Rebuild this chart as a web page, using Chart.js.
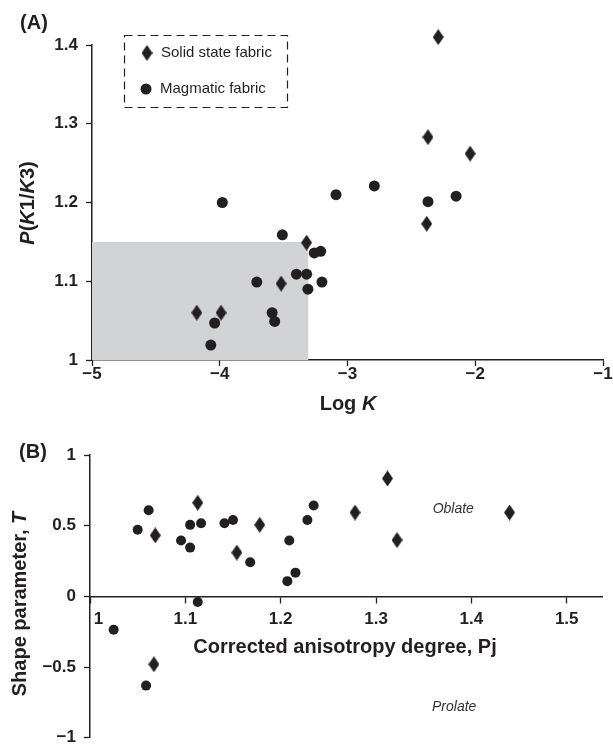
<!DOCTYPE html>
<html>
<head>
<meta charset="utf-8">
<script src="https://cdn.jsdelivr.net/npm/chart.js@4.4.1/dist/chart.umd.min.js"></script>
<style>
  html, body { margin: 0; padding: 0; background: #fff; overflow: hidden; }
  #wrap { position: relative; width: 613px; height: 753px; overflow: hidden; }
  .box { position: absolute; left: 0; width: 613px; }
</style>
</head>
<body>
<div id="wrap">
  <div class="box" style="top:0;height:420px"><canvas id="chartA"></canvas></div>
  <div class="box" style="top:420px;height:336px"><canvas id="chartB"></canvas></div>
</div>
<script>
// (A) Log K vs P(K1/K3)
const aSolidX = [-4.18, -3.99, -3.52, -3.32, -2.29, -2.37, -2.04, -2.38];
const aSolidY = [1.06, 1.06, 1.097, 1.149, 1.41, 1.283, 1.262, 1.173];
const aMagX = [-3.98, -4.04, -4.07, -3.71, -3.51, -3.59, -3.57, -3.40, -3.32, -3.31, -3.26, -3.21, -3.20, -3.09, -2.79, -2.37, -2.15];
const aMagY = [1.20, 1.047, 1.019, 1.099, 1.159, 1.06, 1.049, 1.109, 1.109, 1.09, 1.136, 1.138, 1.099, 1.21, 1.221, 1.201, 1.208];
const aShadeX = [-5, -3.305];
const aShadeTop = 1.15;
const aXTicks = [-5, -4, -3, -2, -1];
const aXTickLabels = ['\u22125', '\u22124', '\u22123', '\u22122', '\u22121'];
const aYTicks = [1, 1.1, 1.2, 1.3, 1.4];
const aYTickLabels = ['1', '1.1', '1.2', '1.3', '1.4'];

// (B) Pj vs T
const bSolidX = [1.0685, 1.113, 1.154, 1.178, 1.278, 1.312, 1.322, 1.440, 1.067];
const bSolidY = [0.432, 0.662, 0.310, 0.506, 0.593, 0.834, 0.398, 0.593, -0.48];
const bMagX = [1.050, 1.0615, 1.0955, 1.105, 1.105, 1.1165, 1.141, 1.150, 1.168, 1.209, 1.207, 1.2155, 1.228, 1.2346, 1.113, 1.0248, 1.0588];
const bMagY = [0.471, 0.609, 0.395, 0.506, 0.345, 0.517, 0.517, 0.540, 0.241, 0.395, 0.108, 0.168, 0.54, 0.643, -0.039, -0.236, -0.631];
const bXTicks = [1, 1.1, 1.2, 1.3, 1.4, 1.5];
const bXTickLabels = ['1', '1.1', '1.2', '1.3', '1.4', '1.5'];
const bYTicks = [-1, -0.5, 0, 0.5, 1];
const bYTickLabels = ['\u22121', '\u22120.5', '0', '0.5', '1'];

const INK = '#231f20';
const FONT = '"Liberation Sans", Arial, sans-serif';
Chart.defaults.font.family = FONT;
Chart.defaults.color = INK;

function pairs(xs, ys) {
  return xs.map((x, i) => ({ x: x, y: ys[i] }));
}

// tall diamond marker
function diamond(w, h) {
  const c = document.createElement('canvas');
  c.width = w; c.height = h;
  const g = c.getContext('2d');
  g.fillStyle = INK;
  g.beginPath();
  g.moveTo(w / 2, 0);
  g.lineTo(w, h / 2);
  g.lineTo(w / 2, h);
  g.lineTo(0, h / 2);
  g.closePath();
  g.fill();
  return c;
}
const diamondImg = diamond(11, 16);

// text with some italic parts
function rich(ctx, parts, cx, cy, size, rotate) {
  ctx.save();
  ctx.translate(cx, cy);
  if (rotate) ctx.rotate(-Math.PI / 2);
  ctx.fillStyle = INK;
  ctx.textBaseline = 'middle';
  ctx.textAlign = 'left';
  let total = 0;
  parts.forEach(p => {
    ctx.font = (p[1] ? 'italic ' : '') + 'bold ' + size + 'px ' + FONT;
    total += ctx.measureText(p[0]).width;
  });
  let x = -total / 2;
  parts.forEach(p => {
    ctx.font = (p[1] ? 'italic ' : '') + 'bold ' + size + 'px ' + FONT;
    ctx.fillText(p[0], x, 0);
    x += ctx.measureText(p[0]).width;
  });
  ctx.restore();
}

function axisStyle(ticks, labels, pad, extra) {
  return Object.assign({
    type: 'linear',
    min: ticks[0],
    max: ticks[ticks.length - 1],
    afterBuildTicks: s => { s.ticks = ticks.map(v => ({ value: v })); },
    ticks: {
      autoSkip: false,
      padding: pad,
      font: { size: 17, weight: 'bold' },
      color: INK,
      callback: (v, i) => labels[i]
    },
    grid: { drawOnChartArea: false, color: INK, tickLength: 6, tickWidth: 1.3 },
    border: { display: true, color: INK, width: 1.5 }
  }, extra || {});
}

const decorA = {
  id: 'decorA',
  afterDraw(chart) {
    const ctx = chart.ctx;
    rich(ctx, [['(A)', false]], 34, 23, 20, false);
    rich(ctx, [['Log ', false], ['K', true]], 348, 404, 20, false);
    rich(ctx, [['P', true], ['(', false], ['K', true], ['1/', false], ['K', true], ['3)', false]], 28, 203, 20, true);

    // legend box
    ctx.save();
    ctx.strokeStyle = INK;
    ctx.lineWidth = 1.2;
    ctx.setLineDash([8, 5]);
    ctx.strokeRect(124.5, 35.5, 163, 72);
    ctx.setLineDash([]);
    ctx.drawImage(diamondImg, 147 - 5.5, 53 - 8);
    ctx.fillStyle = INK;
    ctx.beginPath();
    ctx.arc(146, 89, 5.5, 0, Math.PI * 2);
    ctx.fill();
    ctx.font = '15px ' + FONT;
    ctx.textBaseline = 'middle';
    ctx.fillText('Solid state fabric', 161, 53);
    ctx.fillText('Magmatic fabric', 160, 89);
    ctx.restore();
  }
};

new Chart(document.getElementById('chartA'), {
  type: 'scatter',
  data: {
    datasets: [
      {
        type: 'line',
        label: 'shade',
        data: [{ x: aShadeX[0], y: aShadeTop }, { x: aShadeX[1], y: aShadeTop }],
        fill: 'start',
        backgroundColor: '#d1d3d4',
        borderWidth: 0,
        pointRadius: 0,
        order: 3
      },
      {
        label: 'Solid state fabric',
        data: pairs(aSolidX, aSolidY),
        pointStyle: diamondImg,
        pointRadius: 12,
        clip: false,
        order: 1
      },
      {
        label: 'Magmatic fabric',
        data: pairs(aMagX, aMagY),
        pointStyle: 'circle',
        pointRadius: 5.5,
        backgroundColor: INK,
        borderWidth: 0,
        clip: false,
        order: 2
      }
    ]
  },
  options: {
    responsive: true,
    maintainAspectRatio: false,
    animation: false,
    layout: { autoPadding: false, padding: { top: 45, left: 0, right: 10, bottom: 20 } },
    plugins: { legend: { display: false }, tooltip: { enabled: false } },
    scales: {
      x: axisStyle(aXTicks, aXTickLabels, -2, {
        position: 'bottom',
        afterFit: s => { s.height = 40; }
      }),
      y: axisStyle(aYTicks, aYTickLabels, 8, {
        position: 'left',
        afterFit: s => { s.width = 92; }
      })
    }
  },
  plugins: [decorA]
});

const bOblate = { x: 1.381, y: 0.62 };
const bProlate = { x: 1.382, y: -0.78 };

const decorB = {
  id: 'decorB',
  afterDraw(chart) {
    const ctx = chart.ctx;
    const xs = chart.scales.x, ys = chart.scales.y;
    rich(ctx, [['(B)', false]], 33, 452 - 420, 20, false);
    rich(ctx, [['Corrected anisotropy degree, Pj', false]], 345, 647 - 420, 20, false);
    rich(ctx, [['Shape parameter, ', false], ['T', true]], 20, 604 - 420, 20, true);
    ctx.save();
    ctx.fillStyle = '#333';
    ctx.font = 'italic 14px ' + FONT;
    ctx.textAlign = 'center';
    ctx.textBaseline = 'middle';
    ctx.fillText('Oblate', xs.getPixelForValue(bOblate.x), ys.getPixelForValue(bOblate.y));
    ctx.fillText('Prolate', xs.getPixelForValue(bProlate.x), ys.getPixelForValue(bProlate.y));
    ctx.restore();
  }
};

const bx = axisStyle(bXTicks, bXTickLabels, 7, { position: { y: 0 }, max: 1.537 });
// nudge the first label off the y axis
bx.ticks.callback = (v, i) => (i === 0 ? '\u2002\u2002' + bXTickLabels[i] : bXTickLabels[i]);

new Chart(document.getElementById('chartB'), {
  type: 'scatter',
  data: {
    datasets: [
      {
        label: 'Solid state fabric',
        data: pairs(bSolidX, bSolidY),
        pointStyle: diamondImg,
        pointRadius: 12,
        clip: false
      },
      {
        label: 'Magmatic fabric',
        data: pairs(bMagX, bMagY),
        pointStyle: 'circle',
        pointRadius: 5,
        backgroundColor: INK,
        borderWidth: 0,
        clip: false
      }
    ]
  },
  options: {
    responsive: true,
    maintainAspectRatio: false,
    animation: false,
    layout: { autoPadding: false, padding: { top: 35, left: 0, right: 11, bottom: 0 } },
    plugins: { legend: { display: false }, tooltip: { enabled: false } },
    scales: {
      x: bx,
      y: axisStyle(bYTicks, bYTickLabels, 8, {
        position: 'left',
        afterFit: s => { s.width = 90; }
      })
    }
  },
  plugins: [decorB]
});
</script>
</body>
</html>
